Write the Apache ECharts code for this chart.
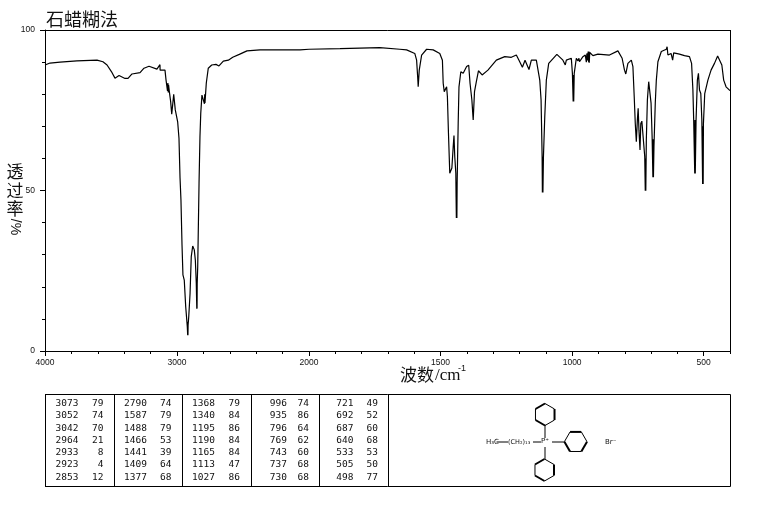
<!DOCTYPE html>
<html><head><meta charset="utf-8">
<style>html,body{margin:0;padding:0;background:#fff}#c{width:765px;height:510px}</style>
<script src="https://cdn.jsdelivr.net/npm/echarts@6/dist/echarts.min.js"></script>
</head><body><div id="c"></div>
<script>
const highWn=[4000,3962,3886,3758,3606,3561,3530,3492,3470,3439,3394,3371,3341,3280,3250,3212,3152,3129,3128,3127,3091,3083,3072,3069,3066,3064,3058,3048,3040,3033,3025,3013,2995,2985,2977,2970,2962,2955,2945,2934,2922,2919,2918,2917,2916,2911,2901,2892,2881,2869,2861,2854,2850,2849,2848,2847,2843,2833,2826,2820,2811,2798,2792,2790,2788,2778,2763,2737,2705,2682,2649,2611,2578,2528,2470,2371,2200,2068,2000];
const highT=[89.1,89.7,90.0,90.4,90.6,90.1,89.1,86.7,85.0,85.8,84.9,84.9,86.3,86.7,88.1,88.7,87.8,89.2,87.5,88.0,87.5,84.4,81.0,83.5,80.5,82.9,80.8,77.7,73.8,76.6,80.0,75.1,71.4,66.3,53.9,47,33,23.7,22.1,13.8,7.6,4.9,9,4.9,8,10.7,18,29.4,32.7,31.5,28.3,21.2,13.2,21,13.2,21,26.3,52.3,66.8,74.1,79.7,80.3,77,80,77.3,83.5,88.1,89.1,89.3,88.8,90.3,90.6,91.5,92.4,93.5,93.8,93.8,93.8,94];
const lowWn=[2000,1882,1731,1655,1629,1598,1591,1587,1586,1585,1581,1572,1553,1528,1503,1493,1490,1486,1477,1474,1470,1465,1457,1452,1449,1446,1442,1441,1440,1439,1438,1437,1433,1430,1423,1414,1401,1393,1388,1381,1376,1371,1364,1356,1342,1320,1288,1256,1231,1212,1202,1189,1179,1164,1155,1136,1123,1118,1114,1113,1112,1111,1109,1104,1098,1089,1058,1035,1026,1022,1003,999,996,995,994,992,984,978,974,972,959,950,946,944,941,939,937,936,935,933,931,921,902,858,826,810,801,796,788,775,769,764,760,756,752,749,746,742,739,735,728,724,722,721,720,718,714,709,705,700,696,693,692,691,689,685,684,680,674,661,642,639,636,624,618,614,592,573,554,546,541,538,535,534,533,532,529,524,520,516,511,507,504,503,502,501,496,484,472,459,447,440,431,424,415,400];
const lowT=[94,94.2,94.5,94,93.8,92.7,90.6,85.4,84,82.3,87.5,92.2,94,93.8,92.7,90.6,83.4,80.8,82.3,79.2,67.9,55.4,57,63.6,67.1,60.5,55.4,48,41.4,48,41.4,52.3,71,82.3,87,86.5,88.6,89,83.4,78.2,72,80.8,83.9,87.3,86,87.5,90.6,91.7,91.5,92.2,90.6,88.4,90.6,87.7,90.6,90.6,84.4,78.2,60.5,49.4,60.5,49.4,60.5,73,84.4,89.6,92.4,90.6,89.1,90.6,91.2,86.5,77.7,86,77.7,86.5,91.2,90.4,91.2,90.1,91.7,92.2,90,92.7,90.5,93.3,90,93.3,89.8,93,92.7,92,92.5,92.2,93.5,91.2,87.5,86.3,89.6,90.6,88.6,79.2,70.9,65.2,72,75.6,68.8,62.6,70.9,71.6,71.6,60.5,49.9,60,49.9,65.7,78.2,83.9,83.9,77.2,66.8,54.1,66,54.1,63.6,63.2,77.2,84.4,90.1,93.3,94,94.8,92.2,92.7,90.6,92.9,92.5,92,91.7,89.6,81.3,72,71.4,55.3,72,55.3,72,84.4,86.5,81.3,80.2,72,52,70,52,70.9,80.2,84.4,87.5,89.6,91.9,92,89.1,84.4,82.3,81.1];

const yTickLabels=[0,50,100];
const xMajorHigh=[4000,3000,2000];
const xLabelsHigh=[4000,3000];
const xMajorLow=[2000,1500,1000,500];
const xMinorHigh=[4000,3800,3600,3400,3200,3000,2800,2600,2400,2200,2000];
const xMinorLow=[2000,1900,1800,1700,1600,1500,1400,1300,1200,1100,1000,900,800,700,600,500,400];

const peakWn=[[3073,3052,3042,2964,2933,2923,2853],[2790,1587,1488,1466,1441,1409,1377],[1368,1340,1195,1190,1165,1113,1027],[996,935,796,769,743,737,730],[721,692,687,640,533,505,498]];
const peakT=[[79,74,70,21,8,4,12],[74,79,79,53,39,64,68],[79,84,86,84,84,47,86],[74,86,64,62,60,68,68],[49,52,60,68,53,50,77]];

const CJK='"Noto Sans CJK SC"';
const tickFont={fontFamily:'Liberation Sans',fontSize:8.5,color:'#111'};
const ax={color:'#000',width:1};
const pair=(grid,min,max,major,labels,minor)=>[
 {type:'value',gridIndex:grid,min,max,inverse:true,position:'bottom',splitLine:{show:false},
  axisLine:{show:true,onZero:false,lineStyle:ax},axisTick:{show:true,length:3,customValues:minor,lineStyle:ax},axisLabel:{show:false}},
 {type:'value',gridIndex:grid,min,max,inverse:true,position:'bottom',splitLine:{show:false},
  axisLine:{show:false,onZero:false},axisTick:{show:true,length:5,customValues:major,lineStyle:ax},
  axisLabel:{show:true,customValues:labels,margin:7,hideOverlap:false,showMinLabel:true,showMaxLabel:true,formatter:v=>String(v),...tickFont}}
];
const line=(o)=>({type:'line',symbol:'none',animation:false,lineStyle:{color:'#000',width:1.2},silent:true,...o});

const G=[];
const txt=(x,y,text,fs,fam,align,extra)=>G.push({type:'text',x,y,silent:true,...(extra||{}),style:{text,fontSize:fs,fontFamily:fam,fill:'#111',align:align||'left',verticalAlign:'middle'}});
const seg=(a,b,c,d,w)=>G.push({type:'line',silent:true,shape:{x1:a,y1:b,x2:c,y2:d},style:{stroke:'#000',lineWidth:w||1}});

seg(45,30.5,730.5,30.5); seg(730.5,30,730.5,351.5);
txt(46,19,'石蜡糊法',18,CJK);
[['透',172],['过',191],['率',209]].forEach(([t,y])=>txt(15,y,t,17,CJK,'center'));
txt(15,227,'/%',14,'Liberation Sans','center',{rotation:-Math.PI/2});
txt(400,375,'波数',17,CJK);
txt(435,376,'/cm',17,'Liberation Serif');
txt(458,369,'-1',9,'Liberation Sans');

// table
const tTop=394.5,tBot=486.5,rows=[404,416,428.3,440.3,452.3,465,477.3];
seg(45,tTop,730.5,tTop,1);seg(45,tBot,730.5,tBot,1);
[45.5,114.5,182.5,251.5,319.5,388.5,730.5].forEach(x=>seg(x,tTop,x,tBot,1));
const wnRight=[78.5,147,215,287,353.5], tRight=[103.5,171.5,240,309,378];
peakWn.forEach((col,i)=>col.forEach((w,r)=>{
  txt(wnRight[i],rows[r],String(w),9.5,'DejaVu Sans Mono','right');
  txt(tRight[i],rows[r],String(peakT[i][r]),9.5,'DejaVu Sans Mono','right');
}));

// structure
const ring=(cx,cy,r,start,thick)=>{
  const p=[];for(let i=0;i<6;i++){const a=start+i*Math.PI/3;p.push([cx+r*Math.cos(a),cy+r*Math.sin(a)]);}
  for(let i=0;i<6;i++){const q=p[(i+1)%6];seg(p[i][0],p[i][1],q[0],q[1],thick.includes(i)?2:1);}
};
ring(545,414.5,11,-Math.PI/2,[1,3,5]);
ring(544.5,470,11,-Math.PI/2,[1,3,5]);
ring(575.7,441.7,11.3,0,[0,2,4]);
seg(545,425,545,438);seg(545,447,545,459);seg(552,442,564.5,442);seg(533,442,541,442);seg(496.5,442,508,442);
txt(486,442,'H₃C',7,'DejaVu Sans');
txt(508,442,'(CH₂)₁₃',6.5,'DejaVu Sans');
txt(545,441,'P⁺',7,'DejaVu Sans','center');
txt(605,442,'Br⁻',7,'DejaVu Sans');

const chart=echarts.init(document.getElementById('c'),null,{renderer:'canvas'});
chart.setOption({
 animation:false,backgroundColor:'#fff',
 grid:[{left:45,top:30,width:264,height:321},{left:309,top:30,width:421,height:321}],
 xAxis:[...pair(0,2000,4000,xMajorHigh,xLabelsHigh,xMinorHigh),...pair(1,400,2000,xMajorLow,xMajorLow,xMinorLow)],
 yAxis:[
  {type:'value',gridIndex:0,min:0,max:100,interval:50,splitLine:{show:false},
   axisLine:{show:true,onZero:false,lineStyle:ax},axisTick:{show:true,length:5,lineStyle:ax},
   minorTick:{show:true,splitNumber:5,length:3,lineStyle:ax},
   axisLabel:{margin:10,customValues:yTickLabels,...tickFont}},
  {type:'value',gridIndex:1,min:0,max:100,show:false}
 ],
 series:[
  line({xAxisIndex:0,yAxisIndex:0,data:highWn.map((w,i)=>[w,highT[i]])}),
  line({xAxisIndex:2,yAxisIndex:1,data:lowWn.map((w,i)=>[w,lowT[i]])})
 ],
 graphic:{elements:G}
});
</script></body></html>
